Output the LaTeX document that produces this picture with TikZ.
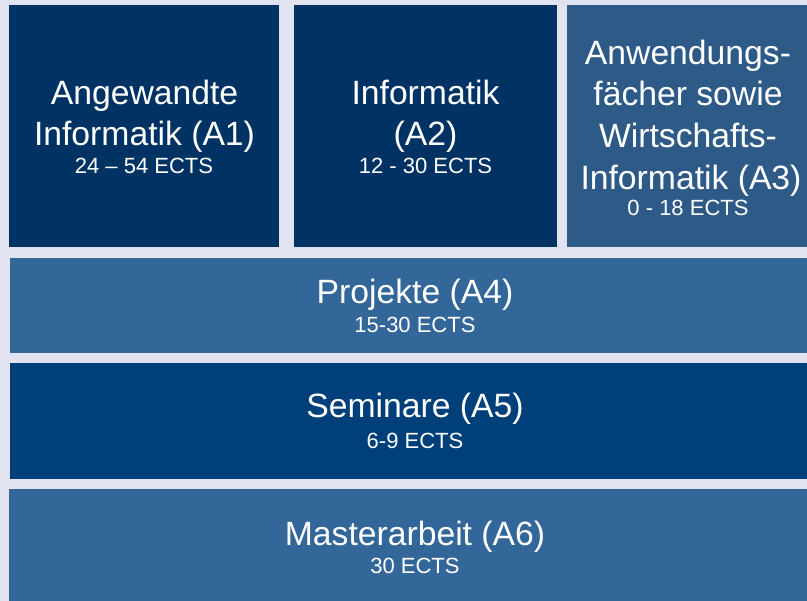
\documentclass[tikz,border=0pt]{standalone}
\usepackage{fontspec}
\setmainfont{Liberation Sans}
\definecolor{bgc}{RGB}{225,227,240}
\definecolor{navy}{RGB}{0,51,99}
\definecolor{midblue}{RGB}{46,90,136}
\definecolor{lightblue}{RGB}{51,102,153}
\definecolor{deepblue}{RGB}{0,64,122}
\begin{document}
\begin{tikzpicture}[x=1pt,y=-1pt,
  box/.style={draw=none,inner sep=0pt,outer sep=0pt,anchor=center},
  big/.style={text=white,anchor=base,inner sep=0pt,font=\fontsize{33.7}{40}\selectfont},
  small/.style={text=white,anchor=base,inner sep=0pt,font=\fontsize{22}{26}\selectfont}]
\fill[bgc] (0,0) rectangle (807,601);
\useasboundingbox (0,0) rectangle (807,601);
% boxes
\node[box,fill=navy,minimum width=270pt,minimum height=242pt] (a1) at (144,126) {};
\node[box,fill=navy,minimum width=263pt,minimum height=242pt] (a2) at (425.5,126) {};
\node[box,fill=midblue,minimum width=240pt,minimum height=242pt] (a3) at (687,126) {};
\node[box,fill=lightblue,minimum width=797pt,minimum height=95pt] (a4) at (408.5,305.5) {};
\node[box,fill=deepblue,minimum width=797pt,minimum height=116pt] (a5) at (408.5,421) {};
\node[box,fill=lightblue,minimum width=798pt,minimum height=112pt] (a6) at (408,545) {};
% texts A1
\node[big] (a1l1) at (144.5,105) {Angewandte};
\node[big] (a1l2) at (144.5,146) {Informatik (A1)};
\node[small] (a1l3) at (144,174) {24 – 54 ECTS};
% A2
\node[big] (a2l1) at (425.5,105) {Informatik};
\node[big] (a2l2) at (425.5,146) {(A2)};
\node[small] (a2l3) at (425.5,174) {12 - 30 ECTS};
% A3
\node[big] (a3l1) at (688,65) {Anwendungs-};
\node[big] (a3l2) at (688,106) {fächer sowie};
\node[big] (a3l3) at (688,148) {Wirtschafts-};
\node[big] (a3l4) at (691,190) {Informatik (A3)};
\node[small] (a3l5) at (688,216) {0 - 18 ECTS};
% A4
\node[big] (a4l1) at (415,304) {Projekte (A4)};
\node[small] (a4l2) at (415,333) {15-30 ECTS};
% A5
\node[big] (a5l1) at (415,418) {Seminare (A5)};
\node[small] (a5l2) at (415,449) {6-9 ECTS};
% A6
\node[big] (a6l1) at (415,546) {Masterarbeit (A6)};
\node[small] (a6l2) at (415,574) {30 ECTS};
\end{tikzpicture}
\end{document}
